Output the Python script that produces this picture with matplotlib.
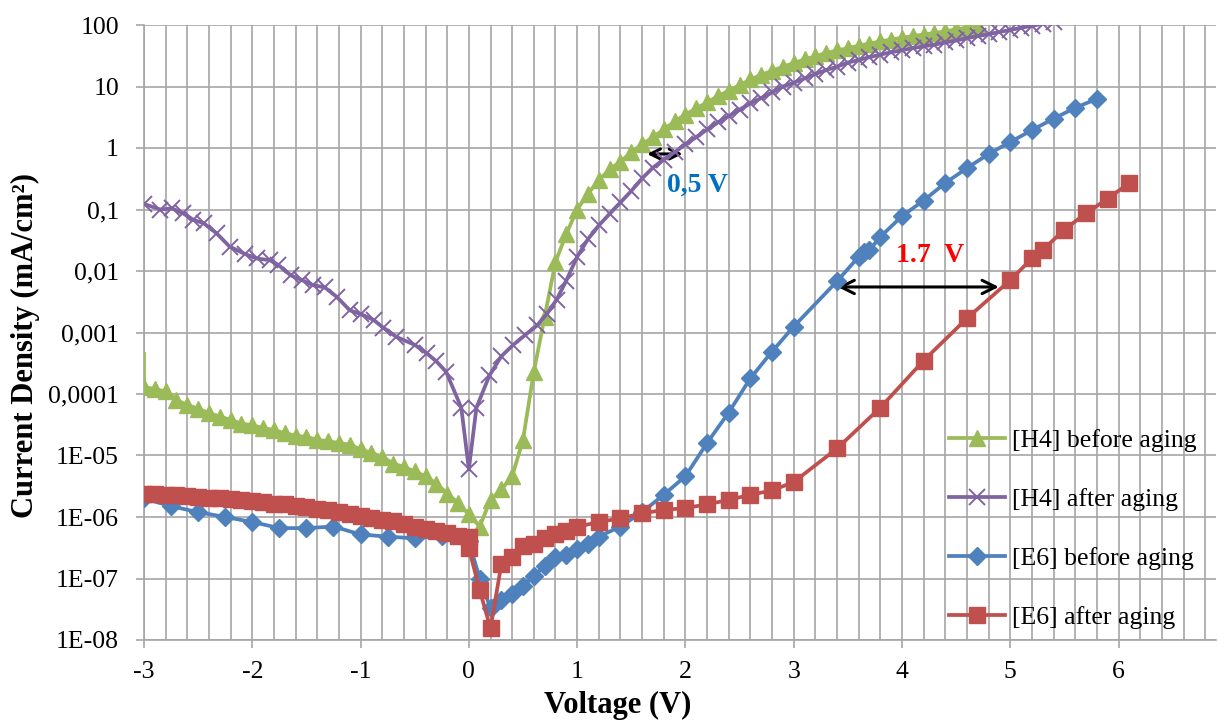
import matplotlib
matplotlib.use('Agg')
import matplotlib.pyplot as plt
from matplotlib.ticker import FixedLocator, MultipleLocator, NullLocator

# Times-like font, plain hyphen for negative numbers
plt.rcParams['font.family'] = 'serif'
plt.rcParams['font.serif'] = ['Liberation Serif', 'DejaVu Serif']
plt.rcParams['axes.unicode_minus'] = False

# ---- data (V, mA/cm2) ----
h4_before_v = [-3.0, -3.0, -2.9, -2.8, -2.7, -2.6, -2.5, -2.4, -2.3, -2.2, -2.1,
               -2.0, -1.9, -1.8, -1.7, -1.6, -1.5, -1.4, -1.3, -1.2, -1.1,
               -1.0, -0.9, -0.8, -0.7, -0.6, -0.5, -0.4, -0.3, -0.2, -0.1,
               0.0, 0.1, 0.2, 0.3, 0.4, 0.5, 0.6, 0.7, 0.8, 0.9,
               1.0, 1.1, 1.2, 1.3, 1.4, 1.5, 1.6, 1.7, 1.8, 1.9,
               2.0, 2.1, 2.2, 2.3, 2.4, 2.5, 2.6, 2.7, 2.8, 2.9,
               3.0, 3.1, 3.2, 3.3, 3.4, 3.5, 3.6, 3.7, 3.8, 3.9,
               4.0, 4.1, 4.2, 4.3, 4.4, 4.5, 4.6, 4.7]
h4_before_j = [4.5e-4, 1.3e-4, 1.2e-4, 1.1e-4, 8e-5, 6.6e-5, 5.8e-5, 4.9e-5, 4.3e-5, 3.8e-5, 3.3e-5,
               3.1e-5, 2.8e-5, 2.6e-5, 2.3e-5, 2.1e-5, 2.0e-5, 1.8e-5, 1.7e-5, 1.6e-5, 1.5e-5,
               1.26e-5, 1.1e-5, 9.6e-6, 7.4e-6, 6.5e-6, 5.5e-6, 4.6e-6, 3.5e-6, 2.4e-6, 1.7e-6,
               1.1e-6, 7e-7, 1.9e-6, 2.8e-6, 4.6e-6, 1.8e-5, 2.3e-4, 1.8e-3, 0.014, 0.04,
               0.1, 0.18, 0.3, 0.45, 0.6, 0.85, 1.15, 1.5, 2.0, 2.7,
               3.5, 4.4, 5.5, 7.0, 8.5, 10.5, 13, 15.5, 18, 21,
               24, 27.5, 31, 35, 38.5, 42, 46, 50, 54, 58,
               62, 66, 70, 74, 79, 85, 91, 98]

h4_after_v = [-3.0, -2.85, -2.74, -2.64, -2.545, -2.45, -2.33, -2.21, -2.07, -1.96,
              -1.84, -1.76, -1.645, -1.54, -1.44, -1.33, -1.22, -1.1, -1.0, -0.88,
              -0.79, -0.67, -0.5, -0.39, -0.3, -0.21, -0.07, 0.0, 0.07, 0.19,
              0.3, 0.41, 0.52, 0.63, 0.72, 0.81, 0.9,
              1.0, 1.1, 1.2, 1.3, 1.4, 1.5, 1.6, 1.7, 1.8, 1.9,
              2.0, 2.1, 2.2, 2.3, 2.4, 2.5, 2.6, 2.7, 2.8, 2.9,
              3.0, 3.1, 3.2, 3.3, 3.4, 3.5, 3.6, 3.7, 3.8, 3.9,
              4.0, 4.1, 4.2, 4.3, 4.4, 4.5, 4.6, 4.7, 4.8, 4.9,
              5.0, 5.1, 5.2, 5.3, 5.4]
h4_after_j = [0.123, 0.1, 0.104, 0.087, 0.068, 0.06, 0.041, 0.025, 0.019, 0.016,
              0.015, 0.0126, 0.0085, 0.0071, 0.0059, 0.0054, 0.0038, 0.0023, 0.002, 0.0016,
              0.0012, 8.5e-4, 6.3e-4, 4.6e-4, 3.4e-4, 2.3e-4, 6e-5, 6e-6, 6e-5, 2e-4,
              4.1e-4, 6.3e-4, 9.1e-4, 1.3e-3, 2.0e-3, 3.4e-3, 7e-3,
              0.017, 0.033, 0.055, 0.085, 0.13, 0.2, 0.32, 0.48, 0.65, 0.85,
              1.15, 1.5, 2.0, 2.6, 3.3, 4.2, 5.3, 6.5, 8, 10,
              11.5, 13.5, 16, 18.5, 21, 24.5, 27, 30, 33, 36,
              39, 42, 45, 48, 52, 56, 61, 66, 71, 77,
              83, 90, 97, 105, 112]

e6_before_v = [-3.0, -2.75, -2.5, -2.25, -2.0, -1.75, -1.5, -1.25, -1.0, -0.75,
               -0.5, -0.25, 0.0, 0.1, 0.2, 0.3, 0.4, 0.5, 0.6, 0.7,
               0.8, 0.9, 1.0, 1.1, 1.2, 1.4, 1.6, 1.8, 2.0, 2.2,
               2.4, 2.6, 2.8, 3.0, 3.4, 3.6, 3.65, 3.7, 3.8, 4.0,
               4.2, 4.4, 4.6, 4.8, 5.0, 5.2, 5.4, 5.6, 5.8]
e6_before_j = [2e-6, 1.5e-6, 1.2e-6, 1.0e-6, 8.3e-7, 6.6e-7, 6.6e-7, 7e-7, 5.2e-7, 4.8e-7,
               4.5e-7, 5e-7, 4e-7, 1e-7, 3.3e-8, 4.5e-8, 5.5e-8, 7.5e-8, 1.1e-7, 1.6e-7,
               2.2e-7, 2.4e-7, 3e-7, 3.7e-7, 4.8e-7, 7e-7, 1.2e-6, 2.3e-6, 4.6e-6, 1.6e-5,
               5e-5, 1.8e-4, 4.9e-4, 1.25e-3, 6.8e-3, 0.017, 0.02, 0.022, 0.036, 0.078,
               0.14, 0.27, 0.47, 0.8, 1.25, 1.95, 3.0, 4.5, 6.3]

e6_after_v = [-3.0, -2.9, -2.8, -2.7, -2.6, -2.5, -2.4, -2.3, -2.2, -2.1,
              -2.0, -1.9, -1.8, -1.7, -1.6, -1.5, -1.4, -1.3, -1.2, -1.1,
              -1.0, -0.9, -0.8, -0.7, -0.6, -0.5, -0.4, -0.3, -0.2, -0.1,
              0.0, 0.0, 0.1, 0.2, 0.3, 0.4, 0.5, 0.6, 0.7, 0.8,
              0.9, 1.0, 1.2, 1.4, 1.6, 1.8, 2.0, 2.2, 2.4, 2.6,
              2.8, 3.0, 3.4, 3.8, 4.2, 4.6, 5.0, 5.2, 5.3, 5.5,
              5.7, 5.9, 6.1]
e6_after_j = [2.4e-6, 2.35e-6, 2.3e-6, 2.25e-6, 2.2e-6, 2.1e-6, 2.05e-6, 2.0e-6, 1.95e-6, 1.9e-6,
              1.8e-6, 1.75e-6, 1.65e-6, 1.6e-6, 1.5e-6, 1.45e-6, 1.35e-6, 1.3e-6, 1.2e-6, 1.1e-6,
              1.05e-6, 9.8e-7, 9e-7, 8.5e-7, 7.8e-7, 7e-7, 6.5e-7, 6e-7, 5.4e-7, 5.0e-7,
              4.8e-7, 3.1e-7, 6.5e-8, 1.55e-8, 1.7e-7, 2.2e-7, 3.4e-7, 3.7e-7, 4.5e-7, 5.3e-7,
              6e-7, 6.9e-7, 8.3e-7, 9.5e-7, 1.15e-6, 1.3e-6, 1.4e-6, 1.6e-6, 1.9e-6, 2.3e-6,
              2.7e-6, 3.7e-6, 1.3e-5, 6e-5, 3.5e-4, 1.7e-3, 7.1e-3, 0.016, 0.022, 0.047,
              0.087, 0.15, 0.27]

y_ticks = [1e-8, 1e-7, 1e-6, 1e-5, 1e-4, 1e-3, 1e-2, 1e-1, 1, 10, 100]
y_tick_labels = ['1E-08', '1E-07', '1E-06', '1E-05', '0,0001', '0,001', '0,01',
                 '0,1', '1', '10', '100']
x_ticks = [-3, -2, -1, 0, 1, 2, 3, 4, 5, 6]

grid_col = '#A6A6A6'

fig = plt.figure(figsize=(12.18, 7.2), dpi=100)
ax = fig.add_axes([144 / 1218, 80 / 720, (1216 - 144) / 1218, 615 / 720])

ax.plot(h4_before_v, h4_before_j, color='#9BBB59', lw=2.7, marker='^', ms=11,
        markevery=slice(1, None), label='[H4] before aging', zorder=3)
ax.plot(h4_after_v, h4_after_j, color='#8064A2', lw=2.7, marker='x', ms=11, mew=1.4,
        label='[H4] after aging', zorder=4)
ax.plot(e6_before_v, e6_before_j, color='#4F81BD', lw=2.7, marker='D', ms=9,
        label='[E6] before aging', zorder=5)
ax.plot(e6_after_v, e6_after_j, color='#C0504D', lw=2.7, marker='s', ms=12,
        label='[E6] after aging', zorder=6)

ax.set_yscale('log')
ax.set_ylim(1e-8, 100)
ax.set_xlim(-3, 6.9)

ax.yaxis.set_major_locator(FixedLocator(y_ticks))
ax.yaxis.set_minor_locator(NullLocator())
ax.set_yticklabels(y_tick_labels)
ax.set_xticks(x_ticks)
ax.xaxis.set_minor_locator(MultipleLocator(0.2))

ax.grid(which='both', axis='x', color=grid_col, lw=1.2)
ax.grid(which='major', axis='y', color=grid_col, lw=1.2)
ax.set_axisbelow(True)

for s in ['top', 'right']:
    ax.spines[s].set_visible(False)
for s in ['left', 'bottom']:
    ax.spines[s].set_color(grid_col)
    ax.spines[s].set_linewidth(1.2)

ax.tick_params(axis='both', which='major', length=6, width=1.2, color=grid_col,
               labelsize=18.5, labelcolor='black')
ax.tick_params(axis='x', which='major', pad=9)
ax.tick_params(axis='y', which='major', pad=12)
ax.tick_params(axis='x', which='minor', length=0)

# annotations
ax.annotate('', xy=(1.62, 0.8), xytext=(2.0, 0.8),
            arrowprops=dict(arrowstyle='<->', color='black', lw=2.2, mutation_scale=18))
ax.text(2.11, 0.25, '0,5 V', color='#0070C0', fontsize=20, fontweight='bold',
        ha='center', va='center')
ax.annotate('', xy=(3.38, 0.0055), xytext=(4.92, 0.0055),
            arrowprops=dict(arrowstyle='<->', color='black', lw=2.2, mutation_scale=24))
ax.text(4.26, 0.018, '1.7  V', color='red', fontsize=20, fontweight='bold',
        ha='center', va='center')

ax.legend(loc='upper left', bbox_to_anchor=(936 / 1218, 1 - 416 / 720),
          bbox_transform=fig.transFigure, frameon=False, fontsize=18.5,
          handlelength=2.2, handletextpad=0.25, labelspacing=1.4, borderpad=0)

fig.text(618 / 1218, 1 - 705 / 720, 'Voltage (V)', ha='center', va='center',
         fontsize=22, fontweight='bold')
fig.text(25 / 1218, 1 - 345 / 720, 'Current Density (mA/cm²)', ha='center', va='center',
         rotation=90, fontsize=22, fontweight='bold')

fig.savefig('out.png', dpi=100)
